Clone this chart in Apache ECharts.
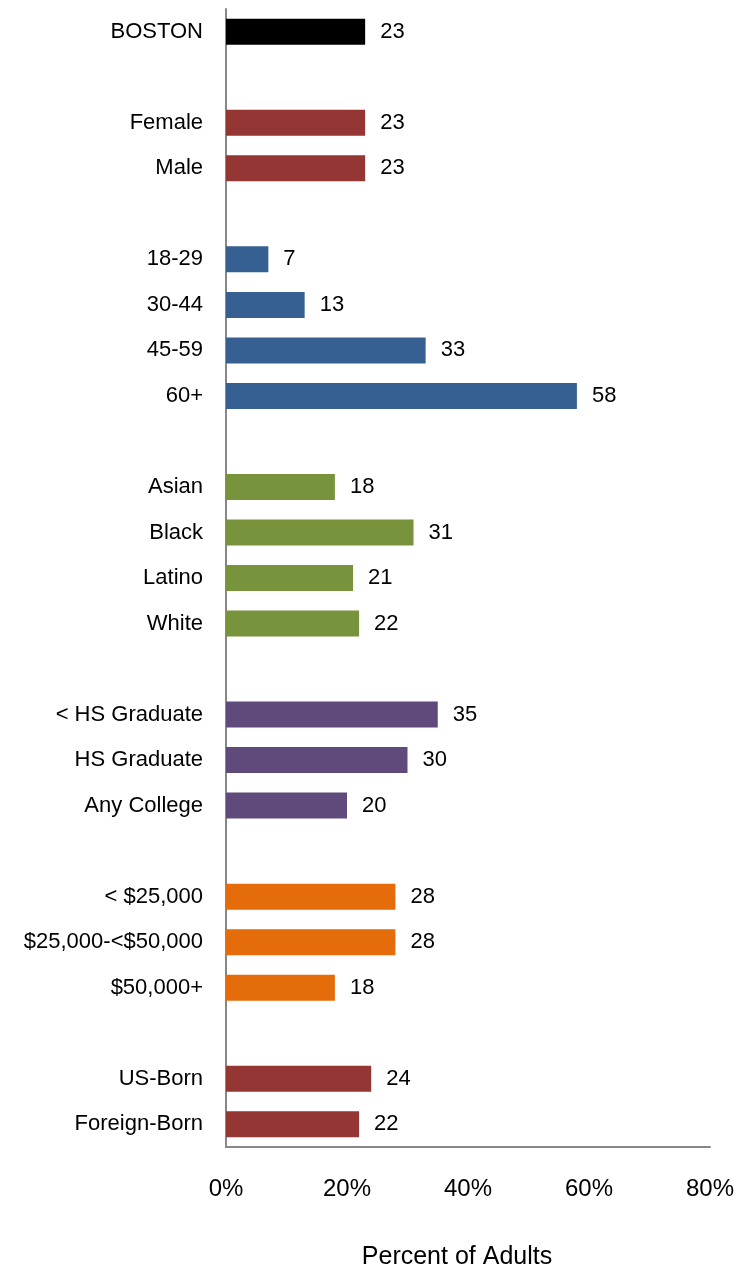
<!DOCTYPE html>
<html><head><meta charset="utf-8">
<script src="https://cdn.jsdelivr.net/npm/echarts@6/dist/echarts.min.js"></script>
<style>html,body{margin:0;padding:0;background:#fff}#c{width:741px;height:1267px}</style>
</head><body><div id="c"></div>
<script>
// Rows top to bottom; '' rows are blank spacers between groups
const categories = ['BOSTON','','Female','Male','','18-29','30-44','45-59','60+','','Asian','Black','Latino','White','','< HS Graduate','HS Graduate','Any College','','< $25,000','$25,000-<$50,000','$50,000+','','US-Born','Foreign-Born'];
const values = [23,null,23,23,null,7,13,33,58,null,18,31,21,22,null,35,30,20,null,28,28,18,null,24,22];
const groups = ['overall',null,'gender','gender',null,'age','age','age','age',null,'race','race','race','race',null,'edu','edu','edu',null,'income','income','income',null,'birth','birth'];
const xTicks = [0,20,40,60,80];
const xTitle = 'Percent of Adults';

const groupColors = {overall:'#000000',gender:'#943634',age:'#366092',race:'#77933C',edu:'#604A7B',income:'#E46C0A',birth:'#943634'};
const font = '"Liberation Sans", Arial, Helvetica, sans-serif';

const chart = echarts.init(document.getElementById('c'), null, {renderer:'canvas'});
chart.setOption({
  animation:false,
  backgroundColor:'#ffffff',
  grid:{left:226,right:31,top:9,bottom:120,containLabel:false,outerBoundsMode:'none'},
  xAxis:{
    type:'value',min:xTicks[0],max:xTicks[xTicks.length-1],interval:20,
    axisLine:{show:true,lineStyle:{color:'#888888',width:2}},
    axisTick:{show:false},splitLine:{show:false},
    axisLabel:{formatter:v=>v+'%',fontSize:24,color:'#000',fontFamily:font,margin:30},
    name:xTitle,nameLocation:'middle',nameGap:98,
    nameTextStyle:{fontSize:25,color:'#000',fontFamily:font,verticalAlign:'top',padding:[0,22,0,0]}
  },
  yAxis:{
    type:'category',data:categories,inverse:true,
    axisLine:{show:true,lineStyle:{color:'#888888',width:2}},
    axisTick:{show:false},splitLine:{show:false},
    axisLabel:{fontSize:22,color:'#000',fontFamily:font,margin:23}
  },
  series:[{
    type:'bar',barWidth:26,
    data:values.map((v,i)=>v==null?'-':{value:v,itemStyle:{color:groupColors[groups[i]]}}),
    label:{show:true,position:'right',distance:15,fontSize:22,color:'#000',fontFamily:font}
  }]
});
</script></body></html>
